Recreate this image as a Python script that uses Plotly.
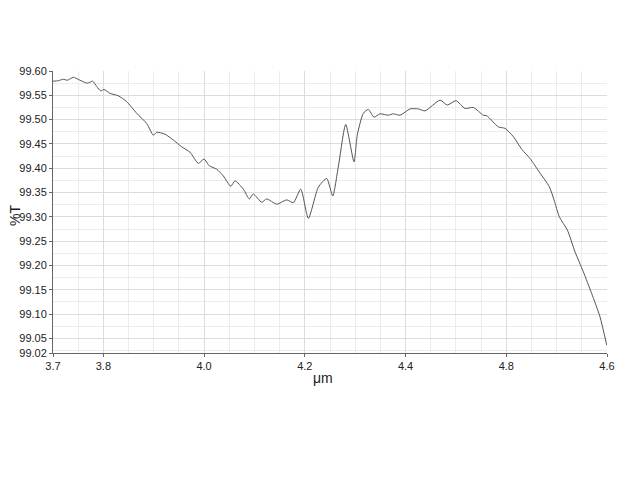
import plotly.graph_objects as go

wavelength_um = [
    3.700, 3.7105, 3.7205, 3.7284, 3.7403, 3.7536, 3.7681, 3.7788, 3.7868, 3.7947,
    3.8013, 3.8132, 3.8297, 3.8463, 3.8662, 3.8861, 3.8992, 3.9059, 3.9224, 3.9389,
    3.9556, 3.9720, 3.9885, 3.9998, 4.0104, 4.0251, 4.0382, 4.0529, 4.0614, 4.0779,
    4.0898, 4.0977, 4.1144, 4.1243, 4.1442, 4.1641, 4.1772, 4.1919, 4.2070, 4.2268,
    4.2435, 4.2554, 4.2665, 4.2812, 4.2977, 4.3041, 4.3162, 4.3261, 4.3374, 4.3493,
    4.3658, 4.3757, 4.3890, 4.4089, 4.4254, 4.4387, 4.4685, 4.4830, 4.5002, 4.5181,
    4.5346, 4.5545, 4.5612, 4.5842, 4.5975, 4.6140, 4.6307, 4.6472, 4.6670, 4.6855,
    4.6948, 4.7054, 4.7213, 4.7365, 4.7530, 4.7697, 4.7862, 4.7995,
]
transmittance = [
    99.579, 99.580, 99.583, 99.581, 99.587, 99.581, 99.575, 99.579, 99.568, 99.559,
    99.562, 99.554, 99.549, 99.537, 99.513, 99.492, 99.468, 99.474, 99.470, 99.458,
    99.444, 99.433, 99.410, 99.419, 99.405, 99.398, 99.384, 99.363, 99.374, 99.357,
    99.337, 99.347, 99.330, 99.337, 99.326, 99.335, 99.329, 99.357, 99.297, 99.361,
    99.379, 99.343, 99.403, 99.490, 99.413, 99.468, 99.513, 99.521, 99.505, 99.512,
    99.509, 99.512, 99.509, 99.522, 99.522, 99.518, 99.540, 99.530, 99.539, 99.523,
    99.525, 99.509, 99.508, 99.485, 99.482, 99.465, 99.439, 99.420, 99.390, 99.362,
    99.335, 99.300, 99.273, 99.228, 99.187, 99.142, 99.094, 99.036,
]

x_tick_vals = [3.7, 3.8, 4.0, 4.2, 4.4, 4.6, 4.8]
x_tick_text = ["3.7", "3.8", "4.0", "4.2", "4.4", "4.8", "4.6"]
y_tick_vals = [99.02, 99.05, 99.10, 99.15, 99.20, 99.25, 99.30, 99.35,
               99.40, 99.45, 99.50, 99.55, 99.60]
y_tick_text = ["99.02", "99.05", "99.10", "99.15", "99.20", "99.25", "99.30",
               "99.35", "99.40", "99.45", "99.50", "99.55", "99.60"]
x_title = "μm"
y_title = "%T"

fig = go.Figure()
fig.add_trace(go.Scatter(
    x=wavelength_um, y=transmittance, mode="lines",
    line=dict(color="#555555", width=1, shape="spline", smoothing=0.6),
    showlegend=False,
))

font_family = "Liberation Sans, Arial, sans-serif"
fig.update_layout(
    width=640, height=480,
    margin=dict(l=45, r=41, t=63, b=135, autoexpand=False),
    paper_bgcolor="white", plot_bgcolor="white",
    font=dict(family=font_family, size=11, color="#222222"),
    xaxis=dict(
        range=[3.7, 4.8], tickmode="array", tickvals=x_tick_vals, ticktext=x_tick_text,
        showline=True, linecolor="#666666", linewidth=1, automargin=False,
        ticks="outside", ticklen=3, tickcolor="#666666",
        showgrid=True, gridcolor="#dcdcdc", gridwidth=1, zeroline=False,
        minor=dict(dtick=0.05, showgrid=True, gridcolor="#ececec", gridwidth=1),
        tickfont=dict(size=11, color="#222222"),
    ),
    yaxis=dict(
        range=[99.02, 99.60], tickmode="array", tickvals=y_tick_vals, ticktext=y_tick_text,
        showline=True, linecolor="#666666", linewidth=1, automargin=False,
        ticks="outside", ticklen=3, tickcolor="#666666",
        showgrid=True, gridcolor="#dcdcdc", gridwidth=1, zeroline=False,
        minor=dict(dtick=0.025, showgrid=True, gridcolor="#ececec", gridwidth=1),
        tickfont=dict(size=11, color="#222222"),
    ),
    annotations=[
        dict(text=x_title, xref="paper", yref="paper", x=0.487, y=-0.089,
             showarrow=False, xanchor="center", yanchor="middle",
             font=dict(size=14, color="#222222")),
        dict(text=y_title, xref="paper", yref="paper", x=-0.069, y=0.489,
             showarrow=False, xanchor="center", yanchor="middle", textangle=-90,
             font=dict(size=14, color="#222222")),
    ],
)

fig.write_html("out.html")
